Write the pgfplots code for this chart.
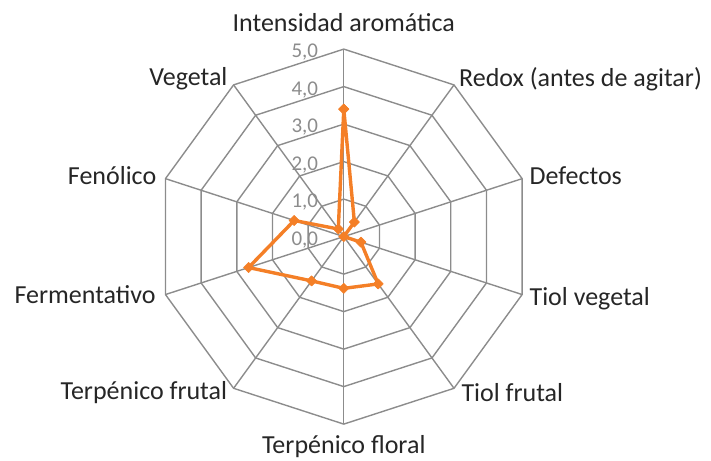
\documentclass[border=0pt]{standalone}
\usepackage{pgfplots}
\pgfplotsset{compat=1.18}
\usepackage{pgfplotstable}
\usepgfplotslibrary{polar}
\usepackage{fontspec}
\setmainfont{Carlito}
\definecolor{gridgray}{HTML}{8C8C8C}
\definecolor{tickgray}{HTML}{8C8C8C}
\definecolor{labelc}{HTML}{262626}
\definecolor{orangeS}{HTML}{F47F27}

\pgfplotstableread{
angle value
90   3.40
54   0.48
18   0.00
-18  0.48
-54  1.56
-90  1.38
-126 1.46
-162 2.67
162  1.39
126  0.25
90   3.40
}\seriesdata

\begin{document}
\begin{tikzpicture}
\begin{polaraxis}[
  at={(0,0)}, anchor=center,
  width=375pt, height=375pt, scale only axis,
  xmin=0, xmax=360, ymin=0, ymax=5,
  hide axis,
  clip=false,
]
\pgfplotsinvokeforeach{1,2,3,4,5}{
  \addplot[gridgray, line width=1.4pt, no markers] coordinates {(90,#1) (54,#1) (18,#1) (-18,#1) (-54,#1) (-90,#1) (-126,#1) (-162,#1) (162,#1) (126,#1) (90,#1)};
}
\pgfplotsinvokeforeach{90,54,18,-18,-54,-90,-126,-162,162,126}{
  \addplot[gridgray, line width=1.4pt, no markers] coordinates {(#1,0) (#1,5)};
}
\addplot[orangeS, line width=3.4pt, line join=round, mark=square*, mark size=3.6pt,
  mark options={rotate=45, fill=orangeS, draw=orangeS, line width=0.6pt}] table[x=angle, y=value] {\seriesdata};

\pgfplotsinvokeforeach{0,1,2,3,4,5}{
  \node[anchor=base east, inner sep=0pt, xshift=-25.5pt, yshift=-8.5pt, text=tickgray, font=\fontsize{21}{21}\selectfont] at (axis cs:90,#1) {#1,0};
}
\tikzset{cat/.style={inner sep=0pt, text=labelc, font=\fontsize{26}{26}\selectfont}}
\node[cat, anchor=base, yshift=17.6pt] at (axis cs:90,5) {Intensidad aromática};
\node[cat, anchor=base west, xshift=5pt, yshift=-1.8pt] at (axis cs:54,5) {Redox (antes de agitar)};
\node[cat, anchor=base west, xshift=7.3pt, yshift=-5.7pt] at (axis cs:18,5) {Defectos};
\node[cat, anchor=base west, xshift=7.3pt, yshift=-10.7pt] at (axis cs:-18,5) {Tiol vegetal};
\node[cat, anchor=base west, xshift=7.3pt, yshift=-13.4pt] at (axis cs:-54,5) {Tiol frutal};
\node[cat, anchor=base, yshift=-29.5pt] at (axis cs:-90,5) {Terpénico floral};
\node[cat, anchor=base east, xshift=-6.3pt, yshift=-11pt] at (axis cs:-126,5) {Terpénico frutal};
\node[cat, anchor=base east, xshift=-9.7pt, yshift=-9.4pt] at (axis cs:-162,5) {Fermentativo};
\node[cat, anchor=base east, xshift=-9pt, yshift=-5.6pt] at (axis cs:162,5) {Fenólico};
\node[cat, anchor=base east, xshift=-6pt, yshift=-0.7pt] at (axis cs:126,5) {Vegetal};
\end{polaraxis}
\path[use as bounding box] (-343.8pt,-223.4pt) rectangle (367.2pt,236.6pt);
\end{tikzpicture}
\end{document}
